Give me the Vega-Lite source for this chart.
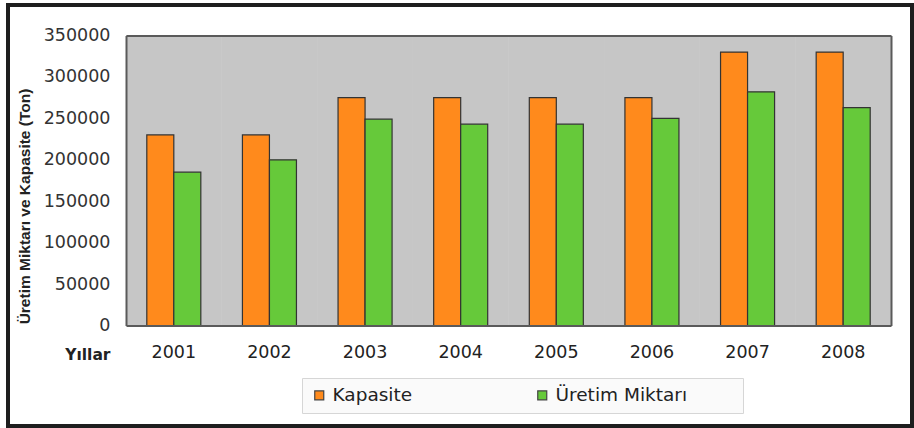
{
  "$schema": "https://vega.github.io/schema/vega-lite/v6.json",
  "width": 904,
  "height": 421,
  "autosize": {"type": "none"},
  "padding": {"left": 8, "top": 5, "right": 2, "bottom": 2},
  "background": "white",
  "config": {
    "view": {"stroke": "#1e1e1e", "strokeWidth": 4, "fill": "white"},
    "font": "DejaVu Sans"
  },
  "data": {
    "values": [
      {"year": "2001", "series": "Kapasite", "value": 230000},
      {"year": "2001", "series": "Üretim Miktarı", "value": 185000},
      {"year": "2002", "series": "Kapasite", "value": 230000},
      {"year": "2002", "series": "Üretim Miktarı", "value": 200000},
      {"year": "2003", "series": "Kapasite", "value": 275000},
      {"year": "2003", "series": "Üretim Miktarı", "value": 249000},
      {"year": "2004", "series": "Kapasite", "value": 275000},
      {"year": "2004", "series": "Üretim Miktarı", "value": 243000},
      {"year": "2005", "series": "Kapasite", "value": 275000},
      {"year": "2005", "series": "Üretim Miktarı", "value": 243000},
      {"year": "2006", "series": "Kapasite", "value": 275000},
      {"year": "2006", "series": "Üretim Miktarı", "value": 250000},
      {"year": "2007", "series": "Kapasite", "value": 330000},
      {"year": "2007", "series": "Üretim Miktarı", "value": 282000},
      {"year": "2008", "series": "Kapasite", "value": 330000},
      {"year": "2008", "series": "Üretim Miktarı", "value": 263000}
    ]
  },
  "layer": [
    {
      "mark": {"type": "rect", "fill": "#c6c6c6"},
      "encoding": {
        "x": {
          "field": "year",
          "type": "ordinal",
          "scale": {"type": "band", "paddingInner": 0, "paddingOuter": 0, "range": [118, 883]},
          "axis": {
            "orient": "bottom",
            "offset": -100.5,
            "ticks": false,
            "labelPadding": 18,
            "labelFont": "DejaVu Sans",
            "labelFontSize": 17.5,
            "labelColor": "#222",
            "labelAngle": 0,
            "domainColor": "#5a5a5a",
            "domainWidth": 2,
            "grid": false,
            "title": "Yıllar",
            "titleFont": "DejaVu Sans",
            "titleFontWeight": "bold",
            "titleFontSize": 15.5,
            "titleColor": "#222",
            "titleAlign": "right",
            "titleX": 102,
            "titleY": 28.5,
            "titleBaseline": "middle",
            "zindex": 1
          }
        },
        "y": {
          "datum": 0,
          "type": "quantitative",
          "scale": {"domain": [0, 350000], "range": [320.5, 30.5], "nice": false},
          "axis": {
            "orient": "left",
            "offset": -118,
            "values": [0, 50000, 100000, 150000, 200000, 250000, 300000, 350000],
            "format": "d",
            "ticks": false,
            "labelPadding": 16,
            "labelFont": "DejaVu Sans",
            "labelFontSize": 17.5,
            "labelColor": "#333",
            "domainColor": "#5a5a5a",
            "domainWidth": 2,
            "grid": false,
            "title": "Üretim Miktarı ve Kapasite (Ton)",
            "titleFont": "Liberation Sans",
            "titleFontWeight": "bold",
            "titleFontSize": 15.5,
            "titleColor": "#222",
            "titleAngle": 270,
            "titleX": -102,
            "titleY": 201,
            "titleAlign": "center",
            "titleBaseline": "middle",
            "zindex": 1
          }
        },
        "y2": {"datum": 350000}
      }
    },
    {
      "mark": {"type": "bar", "stroke": "#333", "strokeWidth": 1.2},
      "encoding": {
        "x": {
          "field": "year",
          "type": "ordinal",
          "scale": {"type": "band", "paddingInner": 0, "paddingOuter": 0, "range": [118, 883]},
          "axis": {
            "orient": "top",
            "offset": -30.5,
            "labels": false,
            "ticks": false,
            "title": null,
            "grid": false,
            "domainColor": "#5a5a5a",
            "domainWidth": 2,
            "zindex": 1
          }
        },
        "xOffset": {
          "field": "series",
          "type": "nominal",
          "scale": {"paddingInner": 0, "paddingOuter": 0.77}
        },
        "y": {
          "field": "value",
          "type": "quantitative",
          "stack": null,
          "axis": {
            "orient": "right",
            "offset": -21,
            "labels": false,
            "ticks": false,
            "title": null,
            "grid": false,
            "domainColor": "#5a5a5a",
            "domainWidth": 2,
            "zindex": 1
          }
        },
        "color": {
          "field": "series",
          "type": "nominal",
          "scale": {"domain": ["Kapasite", "Üretim Miktarı"], "range": ["#ff8a1c", "#66c93a"]},
          "legend": {
            "orient": "none",
            "legendX": 294,
            "legendY": 373,
            "direction": "horizontal",
            "columns": 2,
            "title": null,
            "fillColor": "#fafafa",
            "strokeColor": "#d6d6d6",
            "padding": 8,
            "symbolType": "square",
            "symbolSize": 81,
            "symbolStrokeColor": "#444",
            "symbolStrokeWidth": 1.2,
            "labelFont": "DejaVu Sans",
            "labelFontSize": 18.5,
            "labelColor": "#222",
            "labelOffset": 4,
            "labelLimit": 400,
            "columnPadding": 120,
            "labelExpr": "datum.label == 'Üretim Miktarı' ? datum.label + '\u2007\u2007\u2007\u2007\u200b' : datum.label"
          }
        }
      }
    }
  ],
  "resolve": {"axis": {"x": "independent", "y": "independent"}}
}
